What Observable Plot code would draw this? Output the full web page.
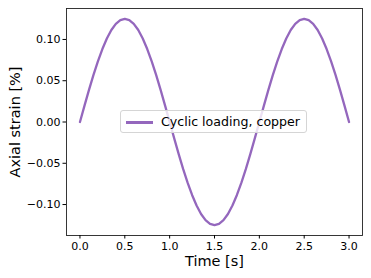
<!DOCTYPE html>
<html><head><meta charset="utf-8">
<script src="https://cdn.jsdelivr.net/npm/d3@7"></script>
<script src="https://cdn.jsdelivr.net/npm/@observablehq/plot@0.6"></script>
<style>
body{margin:0;background:#fff;}
#wrap{position:relative;width:371px;height:278px;font-family:"DejaVu Sans",sans-serif;}
#legend{position:absolute;left:120px;top:110px;width:187px;height:23px;box-sizing:border-box;border:1px solid #d5d5d5;border-radius:3px;background:rgba(255,255,255,0.8);font-size:12.6px;color:#000;}
#legend .sw{position:absolute;left:5px;top:10px;width:27px;height:2.5px;background:#9467bd;}
#legend .lab{position:absolute;left:40px;top:3px;white-space:nowrap;line-height:15px;}
</style></head><body>
<div id="wrap"><div id="legend"><div class="sw"></div><div class="lab">Cyclic loading, copper</div></div></div>
<script>
const seriesName = "Cyclic loading, copper";
const xLabel = "Time [s]";
const yLabel = "Axial strain [%]";
const xTicks = [0, 0.5, 1, 1.5, 2, 2.5, 3];
const yTicks = [-0.10, -0.05, 0, 0.05, 0.10];
const time = [0,0.05,0.1,0.15,0.2,0.25,0.3,0.35,0.4,0.45,0.5,0.55,0.6,0.65,0.7,0.75,0.8,0.85,0.9,0.95,
  1,1.05,1.1,1.15,1.2,1.25,1.3,1.35,1.4,1.45,1.5,1.55,1.6,1.65,1.7,1.75,1.8,1.85,1.9,1.95,
  2,2.05,2.1,2.15,2.2,2.25,2.3,2.35,2.4,2.45,2.5,2.55,2.6,2.65,2.7,2.75,2.8,2.85,2.9,2.95,3];
const strain = [0,0.0196,0.0386,0.0568,0.0735,0.0884,0.1011,0.1114,0.1189,0.1235,0.125,0.1235,0.1189,0.1114,0.1011,0.0884,0.0735,0.0568,0.0386,0.0196,
  0,-0.0196,-0.0386,-0.0568,-0.0735,-0.0884,-0.1011,-0.1114,-0.1189,-0.1235,-0.125,-0.1235,-0.1189,-0.1114,-0.1011,-0.0884,-0.0735,-0.0568,-0.0386,-0.0196,
  0,0.0196,0.0386,0.0568,0.0735,0.0884,0.1011,0.1114,0.1189,0.1235,0.125,0.1235,0.1189,0.1114,0.1011,0.0884,0.0735,0.0568,0.0386,0.0196,0];
const data = time.map((t, i) => ({t, s: strain[i], name: seriesName}));

const chart = Plot.plot({
  width: 371, height: 278,
  marginLeft: 66, marginRight: 9, marginTop: 8, marginBottom: 43,
  style: {fontFamily: "DejaVu Sans, sans-serif", fontSize: "11px", color: "#000", background: "transparent"},
  x: {domain: [-0.15, 3.15]},
  y: {domain: [-0.1375, 0.1375]},
  marks: [
    Plot.frame({stroke: "#222", strokeWidth: 0.9}),
    Plot.axisX({ticks: xTicks, tickFormat: d3.format(".1f"), tickSize: 3.5, tickPadding: 3.5, label: null, fontSize: 11}),
    Plot.axisY({ticks: yTicks, tickFormat: d3.format(".2f"), tickSize: 3.5, tickPadding: 2.5, label: null, fontSize: 11}),
    Plot.line(data, {x: "t", y: "s", stroke: "#9467bd", strokeWidth: 2.3}),
    Plot.text([xLabel], {frameAnchor: "bottom", dy: 26, lineAnchor: "middle", textAnchor: "middle", fontSize: 14.5, fill: "#000"}),
    Plot.text([yLabel], {frameAnchor: "left", dx: -51, rotate: -90, lineAnchor: "middle", textAnchor: "middle", fontSize: 14.5, fill: "#000"})
  ]
});
document.getElementById("wrap").prepend(chart);
chart.style.position = "absolute";
chart.style.left = "0";
chart.style.top = "0";
</script>
</body></html>
